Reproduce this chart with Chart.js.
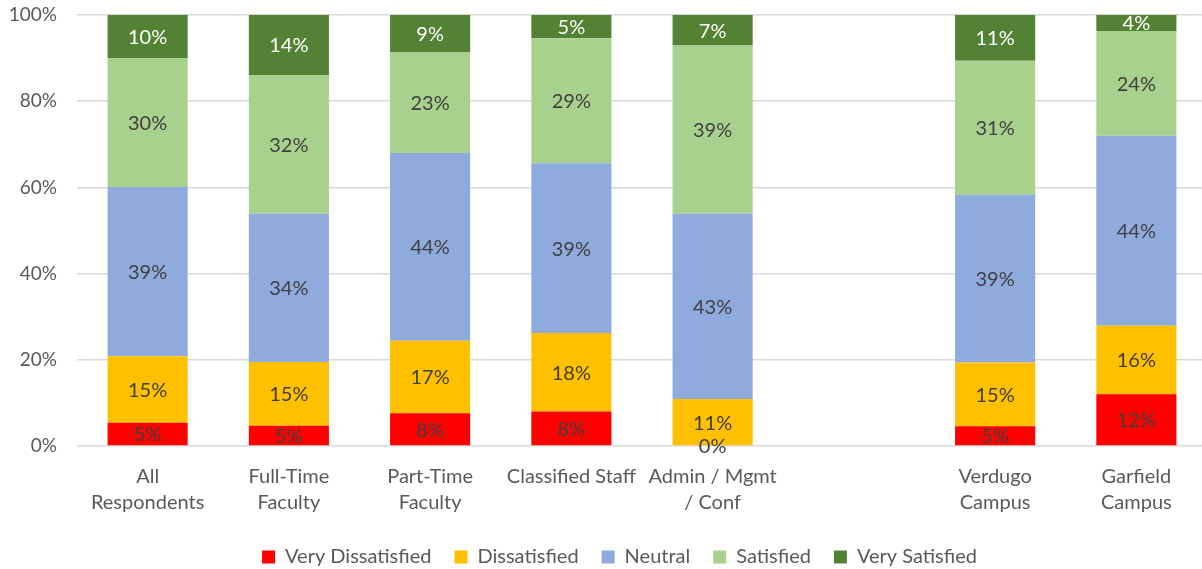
<!DOCTYPE html>
<html lang="en">
<head>
<meta charset="UTF-8">
<title>Satisfaction by group</title>
<style>
    body {
        margin: 0;
        overflow: hidden;
        background: #fff;
    }
    .wrap {
        width: 1210px;
        height: 577px;
    }
</style>
</head>
<body>
<div class="wrap"><canvas id="myChart"></canvas></div>

<script src="https://cdn.jsdelivr.net/npm/chart.js"></script>
<script>
    // groups (the empty one keeps the gap before the campuses)
    const groups = [['All', 'Respondents'], ['Full-Time', 'Faculty'], ['Part-Time', 'Faculty'], 'Classified Staff',
        ['Admin / Mgmt', '/ Conf'], '', ['Verdugo', 'Campus'], ['Garfield', 'Campus']];

    // percent of respondents per answer
    const veryDissatisfied = [5.4, 4.7, 7.6, 8.0, 0, null, 4.6, 12.0];
    const dissatisfied     = [15.4, 14.8, 16.8, 18.2, 10.9, null, 14.8, 15.9];
    const neutral          = [39.3, 34.4, 43.6, 39.4, 43.0, null, 38.9, 44.1];
    const satisfied        = [29.9, 32.2, 23.3, 29.0, 39.0, null, 31.1, 24.3];
    const verySatisfied    = [10.0, 13.9, 8.7, 5.4, 7.1, null, 10.6, 3.7];

    const yTicks = [0, 20, 40, 60, 80, 100];

    Chart.defaults.font.family = 'Lato';
    Chart.defaults.color = '#595959';

    // percentage written in the middle of each segment
    const segmentLabels = {
        id: 'segmentLabels',
        afterDatasetsDraw(chart) {
            const ctx = chart.ctx;
            ctx.save();
            ctx.font = '20px Lato';
            ctx.textAlign = 'center';
            ctx.textBaseline = 'middle';
            chart.data.datasets.forEach((ds, i) => {
                const meta = chart.getDatasetMeta(i);
                meta.data.forEach((bar, j) => {
                    const v = ds.data[j];
                    if (v === null) return;
                    ctx.fillStyle = ds.labelColor;
                    ctx.fillText(Math.round(v) + '%', bar.x, (bar.y + bar.base) / 2 + 1);
                });
            });
            ctx.restore();
        }
    };

    // legend sits a little right of the canvas centre
    const legendShift = {
        id: 'legendShift',
        afterLayout(chart) {
            chart.legend.left += 16;
            chart.legend.right += 16;
        }
    };

    function series(label, data, color, labelColor) {
        return {
            label: label,
            data: data,
            backgroundColor: color,
            borderWidth: 0,
            labelColor: labelColor,
            categoryPercentage: 1,
            barPercentage: 0.567
        };
    }

    const ctx = document.getElementById('myChart').getContext('2d');
    const myChart = new Chart(ctx, {
        type: 'bar',
        data: {
            labels: groups,
            datasets: [
                series('Very Dissatisfied', veryDissatisfied, '#ff0000', '#404040'),
                series('Dissatisfied', dissatisfied, '#ffc000', '#404040'),
                series('Neutral', neutral, '#8faadc', '#404040'),
                series('Satisfied', satisfied, '#a9d18e', '#404040'),
                series('Very Satisfied', verySatisfied, '#548235', '#ffffff')
            ]
        },
        options: {
            responsive: true,
            maintainAspectRatio: false,
            animation: false,
            layout: {
                padding: { top: 0, right: 3, bottom: 0, left: 0 }
            },
            plugins: {
                tooltip: { enabled: false },
                legend: {
                    position: 'bottom',
                    labels: {
                        boxWidth: 13,
                        boxHeight: 13,
                        padding: 23,
                        font: { size: 20 },
                        color: '#595959'
                    }
                }
            },
            scales: {
                x: {
                    stacked: true,
                    grid: { display: false, drawTicks: false },
                    border: { display: false },
                    ticks: {
                        maxRotation: 0,
                        minRotation: 0,
                        autoSkip: false,
                        padding: 18,
                        font: { size: 20, lineHeight: '26px' },
                        color: '#595959'
                    },
                    afterFit: scale => { scale.height = 78; }
                },
                y: {
                    stacked: true,
                    min: 0,
                    max: 100,
                    grid: { color: '#d9d9d9', lineWidth: 1.5, drawTicks: false },
                    border: { display: false },
                    ticks: {
                        padding: 20,
                        font: { size: 19 },
                        color: '#595959',
                        callback: v => v + '%'
                    },
                    afterBuildTicks: scale => { scale.ticks = yTicks.map(v => ({ value: v })); },
                    afterFit: scale => {
                        scale.width = 77;
                        scale.paddingTop = 15;
                        scale.paddingBottom = 0;
                    }
                }
            }
        },
        plugins: [segmentLabels, legendShift]
    });
</script>
</body>
</html>
